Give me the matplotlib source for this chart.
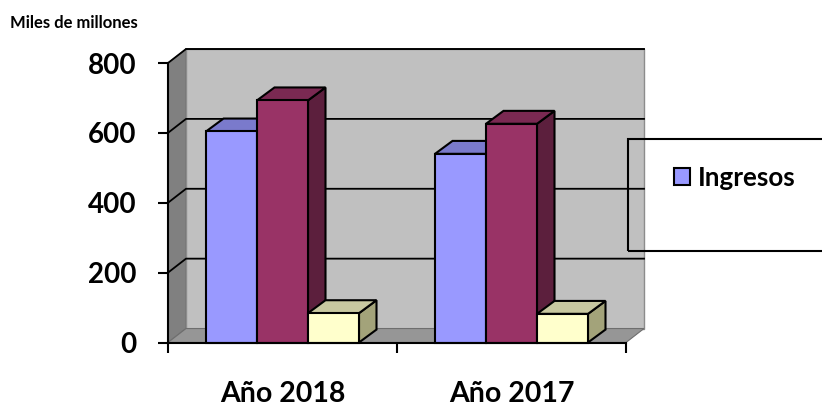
import matplotlib
matplotlib.use('Agg')
import matplotlib.pyplot as plt
from matplotlib.patches import Patch, Rectangle

categories = ['Año 2018', 'Año 2017']
ingresos = [604, 540]
serie_2 = [693, 626]
serie_3 = [84, 82]
y_ticks = [0, 200, 400, 600, 800]

plt.rcParams['font.family'] = ['Lato', 'DejaVu Sans']
plt.rcParams['font.weight'] = 'bold'

W, H = 822, 404
fig = plt.figure(figsize=(W/100, H/100), dpi=100, facecolor='white')
ax = fig.add_axes([168/W, (H-342.5)/H, 458/W, 279.5/H], facecolor='none')
ax.set_xlim(0, 2)
ax.set_ylim(0, 800)

# 3d offsets, data units
wall_dx, wall_dy = 18/229, 40
bar_dx, bar_dy = 17.5/229, 37


def poly(xs, ys, color, ec='black', lw=1.5, z=1):
    ax.fill(xs, ys, facecolor=color, edgecolor=ec, linewidth=lw, zorder=z,
            clip_on=False, joinstyle='miter')


# walls and floor
poly([0, wall_dx, wall_dx, 0], [0, wall_dy, 800+wall_dy, 800], '#808080', ec='#6e6e6e', lw=0.8)
poly([wall_dx, 2+wall_dx, 2+wall_dx, wall_dx], [wall_dy, wall_dy, 800+wall_dy, 800+wall_dy],
     '#c0c0c0', ec='#8c8c8c', lw=1)
poly([0, 2, 2+wall_dx, wall_dx], [0, 0, wall_dy, wall_dy], '#969696', ec='#6e6e6e', lw=0.8)
ax.plot([wall_dx, 2+wall_dx], [800+wall_dy]*2, c='#333333', lw=1.2, zorder=1.5, clip_on=False)

for v in y_ticks[1:]:
    ax.plot([0, wall_dx, 2+wall_dx], [v, v+wall_dy, v+wall_dy], c='black', lw=1.3,
            zorder=1.5, clip_on=False)


def bar3d(x0, w, v, front, top, side, z):
    poly([x0+w, x0+w+bar_dx, x0+w+bar_dx, x0+w], [0, bar_dy, v+bar_dy, v], side, z=z)
    poly([x0, x0+bar_dx, x0+w+bar_dx, x0+w], [v, v+bar_dy, v+bar_dy, v], top, z=z)
    poly([x0, x0+w, x0+w, x0], [0, 0, v, v], front, z=z+0.1)


styles = [('#9999ff', '#7a7acc', '#5c5c99'),
          ('#993366', '#7a2952', '#5c1f3d'),
          ('#ffffcc', '#c8c8a0', '#a3a37a')]
bar_w = 51/229
gap = 38/229
for i in range(len(categories)):
    for j, vals in enumerate([ingresos, serie_2, serie_3]):
        bar3d(i+gap+j*bar_w, bar_w, vals[i], *styles[j], z=2+j+i*3)

# axes
for s in ['top', 'right']:
    ax.spines[s].set_visible(False)
for s in ['left', 'bottom']:
    ax.spines[s].set_linewidth(1.5)
    ax.spines[s].set_zorder(20)
ax.set_yticks(y_ticks)
ax.tick_params(axis='y', length=7.5, width=1.5, labelsize=20, pad=15)
ax.set_xticks([0, 1, 2])
ax.set_xticklabels([])
ax.tick_params(axis='x', which='major', length=7, width=1.5)
ax.set_xticks([0.5, 1.5], categories, minor=True)
ax.tick_params(axis='x', which='minor', length=0, labelsize=20.5, pad=28)

fig.text(10/W, 1-23/H, 'Miles de millones', fontsize=12, fontweight='bold', va='center')

# legend box runs off the right side of the picture
fig.add_artist(Rectangle((627.5/W, 1-251/H), 260/W, 112/H, transform=fig.transFigure,
                         facecolor='none', edgecolor='black', linewidth=1.5, zorder=30))
fig.legend(handles=[Patch(facecolor='#9999ff', edgecolor='black', linewidth=1.5, label='Ingresos')],
           loc='center left', bbox_to_anchor=(674/W, 1-178/H), frameon=False, fontsize=18.7,
           handlelength=0.62, handleheight=0.62, handletextpad=0.3, borderpad=0, borderaxespad=0)

fig.savefig('out.png', dpi=100, facecolor='white')
